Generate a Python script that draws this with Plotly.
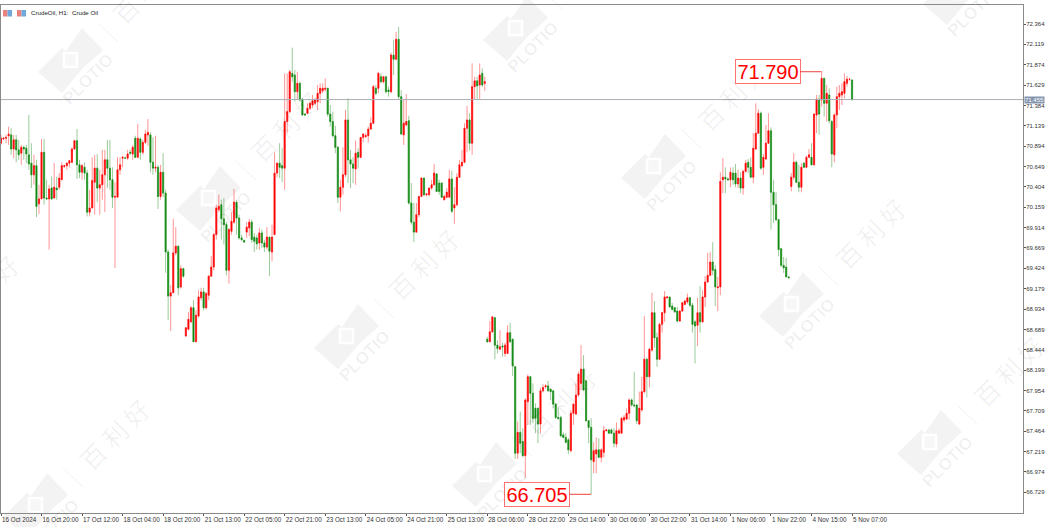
import plotly.graph_objects as go

# --- session before the stitch (16 Oct - 28 Oct) ---
left_open = [70.93,70.98,70.99,71.02,71.03,70.86,70.97,70.85,70.81,70.88,
70.87,70.79,70.69,70.55,70.66,70.20,70.26,70.82,70.27,70.26,
70.39,70.27,70.39,70.40,70.49,70.65,70.66,70.69,70.70,70.86,
70.96,70.67,70.58,70.64,70.57,70.10,70.15,70.46,70.63,70.39,
70.43,70.55,70.73,70.63,70.49,70.28,70.28,70.61,70.75,70.75,
70.75,70.82,70.80,70.99,70.76,70.98,70.82,70.94,71.03,71.03,
70.70,70.63,70.64,70.29,70.58,70.33,69.62,69.09,69.13,69.61,
69.69,69.20,69.42,68.61,68.69,68.78,68.95,68.54,68.85,69.07,
69.14,68.95,69.10,69.33,69.44,69.83,70.13,70.19,70.02,69.95,
69.40,69.87,69.98,70.22,70.03,69.79,69.76,69.86,69.91,69.98,
69.80,69.79,69.73,69.85,69.73,69.68,69.80,69.62,69.83,70.57,
70.69,70.66,70.63,71.19,71.31,71.77,71.75,71.55,71.65,71.46,
71.28,71.29,71.35,71.39,71.41,71.43,71.53,71.56,71.58,71.59,
71.28,71.19,71.02,70.88,70.28,70.40,70.55,71.21,70.73,70.68,
70.62,70.82,70.76,71.00,71.01,71.02,71.10,71.17,71.59,71.59,
71.73,71.67,71.73,71.57,71.55,71.99,71.94,72.18,71.49,71.03,
71.15,71.20,70.21,69.98,69.86,70.07,70.29,70.51,70.31,70.31,
70.39,70.43,70.56,70.45,70.45,70.25,70.28,70.28,70.50,70.15,
70.19,70.52,70.66,70.70,71.11,71.21,70.93,71.61,71.68,71.63,
71.77,71.65]
left_high = [71.03,71.00,71.03,71.13,71.11,71.03,71.03,70.97,70.91,70.90,
70.91,71.27,70.93,70.79,70.73,70.43,70.98,70.98,70.49,70.43,
70.53,70.69,70.53,70.57,70.70,70.67,70.70,70.73,70.88,70.97,
71.10,70.73,70.68,70.70,70.61,70.37,70.76,70.79,70.80,70.61,
70.85,70.85,70.97,70.97,70.64,70.46,70.76,70.76,70.78,70.77,
70.85,70.85,70.91,71.02,71.16,71.00,70.97,71.09,71.22,71.06,
71.00,71.02,70.67,70.67,70.81,70.37,69.65,69.22,70.02,69.92,
69.70,69.46,69.43,68.71,68.90,68.97,69.04,68.92,69.16,69.19,
69.19,69.14,69.34,69.57,69.85,70.19,70.31,70.25,70.27,69.98,
69.91,70.10,70.38,70.25,70.07,69.83,69.77,69.98,70.02,70.01,
69.85,69.83,69.91,69.89,69.77,69.92,69.80,69.95,70.82,70.70,
70.93,70.87,71.77,71.77,71.81,72.08,71.81,71.79,71.67,71.47,
71.29,71.41,71.43,71.51,71.47,71.63,71.65,71.65,71.71,71.60,
71.39,71.31,71.14,70.90,70.49,70.88,71.33,71.47,70.85,70.76,
70.96,70.87,71.00,71.05,71.05,71.13,71.24,71.63,71.63,71.79,
71.77,71.73,71.74,71.61,72.02,72.17,72.27,72.33,71.57,71.45,
71.52,71.26,70.45,70.21,70.21,70.29,70.52,70.52,70.33,70.40,
70.49,70.68,70.57,70.49,70.46,70.31,70.39,70.61,70.60,70.40,
70.57,70.73,70.85,71.17,71.38,71.29,71.89,71.73,71.73,71.89,
71.83,71.73]
left_low = [70.91,70.97,70.93,70.91,70.79,70.75,70.70,70.73,70.67,70.73,
70.69,70.61,70.39,70.43,70.04,70.08,70.26,70.19,70.25,69.65,
70.25,70.27,70.25,70.37,70.49,70.63,70.61,70.64,70.69,70.85,
70.50,70.51,70.49,70.49,70.05,70.05,70.15,70.07,70.22,70.07,
70.25,70.10,70.39,70.37,70.15,69.43,70.28,70.55,70.64,70.74,
70.73,70.79,70.73,70.75,70.75,70.73,70.79,70.92,70.90,70.58,
70.55,70.58,70.14,70.25,70.28,69.37,68.80,68.67,69.13,69.58,
69.10,69.18,69.31,68.60,68.68,68.77,68.54,68.54,68.83,69.04,
68.92,68.93,69.04,69.32,69.40,69.77,70.10,69.77,69.71,69.34,
69.24,69.83,69.96,69.83,69.77,69.75,69.73,69.79,69.81,69.73,
69.62,69.65,69.65,69.67,69.62,69.65,69.33,69.51,69.83,70.52,
70.51,70.46,70.37,71.05,71.29,71.67,71.43,71.45,71.43,71.26,
71.26,71.28,71.33,71.35,71.39,71.33,71.41,71.53,71.55,71.25,
71.13,71.00,70.81,70.21,70.11,70.31,70.52,70.45,70.39,70.45,
70.43,70.63,70.75,70.94,70.99,70.94,71.09,71.16,71.51,71.53,
71.65,71.65,71.53,71.49,71.53,71.75,71.93,71.45,71.03,70.91,
71.13,70.19,69.95,69.74,69.85,70.04,70.28,70.29,70.29,70.29,
70.37,70.42,70.34,70.31,70.27,70.24,70.27,70.28,70.09,69.96,
70.17,70.51,70.64,70.69,70.82,70.84,70.79,71.46,71.46,71.46,
71.61,71.56]
left_close = [70.99,70.99,71.00,71.04,70.86,70.97,70.85,70.79,70.88,70.86,
70.80,70.68,70.55,70.66,70.17,70.26,70.82,70.27,70.26,70.38,
70.26,70.40,70.37,70.51,70.66,70.66,70.69,70.72,70.86,70.96,
70.67,70.58,70.66,70.57,70.10,70.15,70.48,70.63,70.39,70.43,
70.55,70.73,70.63,70.49,70.28,70.29,70.61,70.67,70.76,70.75,
70.80,70.81,70.88,70.76,70.99,70.82,70.94,71.04,71.06,70.70,
70.63,70.64,70.29,70.58,70.33,69.62,69.09,69.13,69.61,69.69,
69.19,69.42,69.33,68.71,68.81,68.95,68.54,68.86,69.08,69.14,
68.95,69.12,69.33,69.44,69.83,70.15,70.17,70.02,69.95,69.40,
69.89,69.99,70.22,70.03,69.79,69.77,69.74,69.92,69.98,69.77,
69.75,69.72,69.85,69.73,69.68,69.80,69.63,69.80,70.57,70.69,
70.64,70.63,71.19,71.31,71.79,71.73,71.55,71.65,71.45,71.27,
71.27,71.35,71.41,71.44,71.45,71.53,71.59,71.59,71.59,71.28,
71.19,71.02,70.88,70.28,70.40,70.55,71.21,70.73,70.68,70.63,
70.81,70.76,71.00,71.04,71.02,71.10,71.17,71.61,71.53,71.77,
71.67,71.73,71.55,71.55,71.99,71.94,72.18,71.49,71.04,71.17,
71.19,70.21,69.98,69.86,70.07,70.29,70.51,70.31,70.32,70.39,
70.43,70.57,70.35,70.35,70.28,70.29,70.34,70.50,70.11,70.19,
70.52,70.67,70.70,71.11,71.21,70.93,71.61,71.68,71.62,71.75,
71.63,71.67]

# --- session after the stitch (28 Oct - 5 Nov) ---
right_open = [68.57,68.54,68.66,68.83,68.50,68.45,68.49,68.40,68.40,68.65,
68.57,68.24,67.20,67.45,67.34,67.17,67.82,68.12,67.92,67.74,
67.74,67.55,67.95,68.00,68.01,67.97,67.95,67.79,67.63,67.63,
67.42,67.39,67.36,67.23,67.68,67.67,67.90,68.04,68.21,68.07,
67.59,67.51,67.10,67.19,67.24,67.15,67.21,67.47,67.48,67.48,
67.44,67.31,67.44,67.44,67.60,67.61,67.68,67.84,67.78,67.78,
67.55,67.72,67.94,68.33,68.12,68.44,68.89,68.59,68.33,68.75,
68.89,69.07,69.08,68.97,68.95,68.91,68.79,68.91,68.99,69.02,
69.07,68.98,68.78,68.74,68.89,68.78,69.08,69.26,69.34,69.50,
69.41,69.19,69.20,70.49,70.52,70.50,70.49,70.57,70.57,70.44,
70.51,70.39,70.59,70.70,70.64,70.52,70.86,71.05,71.29,70.64,
70.74,70.93,71.08,70.34,70.19,70.01,69.66,69.46,69.44,69.32,
70.41,70.52,70.70,70.46,70.40,70.69,70.64,70.76,70.76,70.67,
71.27,71.46,71.45,71.71,71.41,71.51,71.19,70.79,71.27,71.49,
71.51,71.53,71.65,71.70,71.69]
right_high = [68.60,68.79,68.85,68.84,68.56,68.68,68.53,68.53,68.74,68.77,
68.58,68.25,67.58,67.70,67.50,67.86,68.15,68.13,68.04,67.80,
67.75,67.99,68.03,68.03,68.07,67.98,67.96,67.80,67.75,67.65,
67.45,67.44,67.38,67.72,67.80,68.04,68.18,68.50,68.38,68.08,
67.60,67.62,67.33,67.39,67.38,67.26,67.53,67.49,67.49,67.50,
67.50,67.57,67.50,67.63,67.66,67.74,67.86,67.86,68.18,67.79,
67.94,68.12,68.85,68.35,68.47,69.13,69.03,68.65,68.77,68.90,
69.15,69.09,69.08,69.01,68.96,68.96,68.92,69.02,69.05,69.12,
69.08,69.01,68.80,69.07,69.21,69.16,69.33,69.61,69.62,69.74,
69.46,69.32,70.58,70.75,70.64,70.52,70.64,70.64,70.68,70.61,
70.58,70.61,70.73,70.74,70.76,71.05,71.41,71.34,71.31,70.80,
71.15,71.29,71.12,70.49,70.34,70.02,69.67,69.56,69.55,69.33,
70.57,70.81,70.72,70.67,70.69,70.70,70.78,70.86,70.93,71.29,
71.51,71.51,71.79,71.72,71.63,71.59,71.21,71.29,71.61,71.63,
71.65,71.77,71.74,71.71,71.70]
right_low = [68.53,68.54,68.65,68.33,68.40,68.44,68.36,68.36,68.40,68.53,
68.13,67.13,67.13,67.20,67.15,66.90,67.54,67.54,67.56,67.44,
67.32,67.44,67.93,67.98,67.94,67.84,67.74,67.61,67.60,67.39,
67.38,67.32,67.19,67.21,67.54,67.66,67.88,67.96,67.95,67.58,
67.32,66.705,66.96,66.96,67.14,67.09,67.15,67.46,67.43,67.43,
67.27,67.27,67.43,67.44,67.57,67.60,67.60,67.76,67.76,67.55,
67.54,67.70,67.92,67.87,67.99,68.42,68.47,68.24,68.32,68.65,
68.78,69.06,68.95,68.92,68.89,68.77,68.78,68.90,68.98,69.00,
68.96,68.65,68.28,68.49,68.65,68.77,68.96,69.25,69.33,69.34,
68.97,68.91,69.10,70.33,70.33,70.48,70.40,70.43,70.40,70.39,
70.33,70.31,70.58,70.57,70.51,70.45,70.85,71.04,70.61,70.55,
70.73,70.92,69.89,69.97,69.99,69.57,69.44,69.37,69.32,69.31,
70.35,70.49,70.45,70.34,70.34,70.63,70.63,70.75,70.66,70.66,
71.05,71.03,71.37,71.25,71.19,71.17,70.64,70.70,71.11,71.33,
71.39,71.47,71.61,71.68,71.44]
right_close = [68.54,68.66,68.84,68.50,68.46,68.48,68.48,68.50,68.65,68.54,
68.25,67.20,67.45,67.32,67.17,67.84,68.12,67.92,67.62,67.62,
67.55,67.95,67.99,68.01,67.95,67.94,67.79,67.63,67.62,67.41,
67.39,67.33,67.24,67.68,67.79,67.90,68.15,68.21,67.96,67.59,
67.51,67.12,67.23,67.24,67.15,67.24,67.47,67.48,67.44,67.44,
67.32,67.47,67.47,67.62,67.63,67.68,67.84,67.78,67.77,67.59,
67.74,67.94,68.33,68.12,68.45,68.89,68.59,68.33,68.75,68.89,
69.08,69.08,68.96,68.93,68.90,68.79,68.91,69.01,69.03,69.07,
68.98,68.75,68.73,68.89,68.78,69.08,69.26,69.34,69.50,69.40,
69.20,69.20,70.47,70.52,70.50,70.49,70.58,70.49,70.44,70.51,
70.39,70.59,70.69,70.64,70.52,70.87,71.05,71.29,70.63,70.76,
70.93,71.08,70.34,70.19,70.01,69.65,69.46,69.43,69.32,69.31,
70.52,70.70,70.46,70.40,70.64,70.64,70.76,70.79,70.67,71.28,
71.46,71.28,71.71,71.41,71.53,71.20,70.80,71.27,71.49,71.53,
71.55,71.67,71.70,71.70,71.455]

time_labels = ["16 Oct 2024","16 Oct 20:00","17 Oct 12:00","18 Oct 04:00","18 Oct 20:00",
               "21 Oct 13:00","22 Oct 05:00","22 Oct 21:00","23 Oct 13:00","24 Oct 05:00",
               "24 Oct 21:00","25 Oct 13:00","28 Oct 06:00","28 Oct 22:00","29 Oct 14:00",
               "30 Oct 06:00","30 Oct 22:00","31 Oct 14:00","1 Nov 06:00","1 Nov 22:00",
               "4 Nov 15:00","5 Nov 07:00"]
price_labels = ["72.364","72.119","71.874","71.629","71.384","71.139","70.894","70.649",
                "70.404","70.159","69.914","69.669","69.424","69.179","68.934","68.689",
                "68.444","68.199","67.954","67.709","67.464","67.219","66.974","66.729"]
last_price = 71.455
high_label = 71.790
low_label = 66.705

W, H = 1045, 527
L, R, T, B = 1, 22, 5, 14
PW, PH = W - L - R, H - T - B
def px(x): return (x - L) / PW
def py(y): return 1 - (y - T) / PH

opens = left_open + right_open
highs = left_high + right_high
lows = left_low + right_low
closes = left_close + right_close
bars = list(range(len(opens)))

fig = go.Figure()
fig.add_trace(go.Candlestick(
    x=bars, open=opens, high=highs, low=lows, close=closes, whiskerwidth=0,
    increasing=dict(line=dict(color="rgba(255,60,60,0.55)", width=1), fillcolor="rgba(0,0,0,0)"),
    decreasing=dict(line=dict(color="rgba(30,140,30,0.45)", width=1), fillcolor="rgba(0,0,0,0)"),
    hoverinfo="skip", showlegend=False))
fig.add_trace(go.Candlestick(
    x=bars, open=opens, close=closes,
    high=[max(o, c) for o, c in zip(opens, closes)],
    low=[min(o, c) for o, c in zip(opens, closes)],
    whiskerwidth=0,
    increasing=dict(line=dict(color="#ff0000", width=0.4), fillcolor="#ff0000"),
    decreasing=dict(line=dict(color="#128a12", width=0.4), fillcolor="#128a12"),
    hoverinfo="skip", showlegend=False))

shapes = []
annots = []
WM_TEXT = "rgba(0,0,0,0.06)"
logo_centres = [(75,60),(213,198),(351,336),(489,474),(520,28),(658,166),(796,304),(934,442),
                (960,-8),(40,505)]
brand_centres = [(147,-12),(285,126),(423,264),(561,402),(732,95),(870,233),(1008,371),(114,434),(-17,290)]
for cx, cy in logo_centres:
    pts = [(7,-32),(28,-10),(8,8),(-13,33),(-37,12),(-13,-12),(-9,-9)]
    path = "M " + " L ".join(f"{px(cx+a):.5f},{py(cy+b):.5f}" for a, b in pts) + " Z"
    shapes.append(dict(type="path", xref="paper", yref="paper", path=path,
                       fillcolor="#f3f3f3", line=dict(width=0), layer="below"))
    shapes.append(dict(type="rect", xref="paper", yref="paper",
                       x0=px(cx-11), x1=px(cx+2), y0=py(cy+7), y1=py(cy-7),
                       fillcolor="#f7f7f7", line=dict(color="#ffffff", width=2.5), layer="below"))
    shapes.append(dict(type="line", xref="paper", yref="paper",
                       x0=px(cx+23), y0=py(cy-37), x1=px(cx+43), y1=py(cy-18),
                       line=dict(color="#f1f1f1", width=1), layer="below"))
    annots.append(dict(text="<b>PLOTIO</b>", xref="paper", yref="paper", x=px(cx+13), y=py(cy+20),
                       xanchor="center", yanchor="middle", textangle=-45, showarrow=False,
                       font=dict(family="Liberation Sans", size=17, color=WM_TEXT)))
for bx, by in brand_centres:
    annots.append(dict(text="百 利 好", xref="paper", yref="paper", x=px(bx), y=py(by),
                       xanchor="center", yanchor="middle", textangle=-45, showarrow=False,
                       font=dict(family="Noto Sans CJK SC", size=25, color=WM_TEXT)))

# window header icons
for x0, col in [(3, "#e9827f"), (7.5, "#6fa8dc"), (17, "#e9827f"), (21.5, "#6fa8dc")]:
    shapes.append(dict(type="rect", xref="paper", yref="paper",
                       x0=px(x0), x1=px(x0+4.5), y0=py(16.5), y1=py(10),
                       fillcolor=col, line=dict(width=0)))
annots.append(dict(text="CrudeOil, H1:  Crude Oil", xref="paper", yref="paper",
                   x=px(29), y=py(13), xanchor="left", yanchor="middle", showarrow=False,
                   font=dict(family="Liberation Sans", size=6.2, color="#222222")))

# current price line + tag
shapes.append(dict(type="line", xref="paper", yref="y", x0=0, x1=1, y0=last_price, y1=last_price,
                   line=dict(color="#a9adb5", width=1)))
annots.append(dict(text=f"{last_price:.3f}", xref="paper", yref="y", x=px(1024), y=last_price,
                   xanchor="left", yanchor="middle", showarrow=False, bgcolor="#8496ae",
                   font=dict(family="Liberation Sans", size=6, color="#ffffff"), borderpad=0))

# high / low call-outs
for val, bar, off in [(high_label, 192+132, -54), (low_label, 192+41, -54)]:
    annots.append(dict(text=f"{val:.3f}", x=bar, y=val, xref="x", yref="y", ax=off, ay=0,
                       showarrow=True, arrowhead=0, arrowwidth=1, arrowcolor="#f04040",
                       bgcolor="#ffffff", bordercolor="#ff7070", borderwidth=1, borderpad=0,
                       width=64, height=23,
                       font=dict(family="Liberation Sans", size=20, color="#ff0000")))

fig.update_layout(
    width=W, height=H, autosize=False, paper_bgcolor="#ffffff", plot_bgcolor="rgba(0,0,0,0)",
    margin=dict(l=L, r=R, t=T, b=B, pad=0), showlegend=False, boxgap=0.34,
    shapes=shapes, annotations=annots,
    font=dict(family="Liberation Sans", size=7, color="#222222"),
    xaxis=dict(range=[0, 403.5], tickmode="array",
               tickvals=[16 * k for k in range(len(time_labels))], ticktext=time_labels,
               ticks="outside", ticklen=2, tickcolor="#555555", tickwidth=1, tickangle=0,
               ticklabelposition="outside right", showgrid=False, zeroline=False, automargin=False,
               showline=True, linecolor="#8a8a8a", linewidth=1, mirror=True,
               rangeslider=dict(visible=False),
               tickfont=dict(family="Liberation Sans", size=6.3, color="#333333")),
    yaxis=dict(range=[66.480, 72.593], side="right", tickmode="array", automargin=False,
               tickvals=[float(p) for p in price_labels], ticktext=price_labels,
               ticks="outside", ticklen=2, tickcolor="#555555", tickwidth=1, ticklabelstandoff=-1,
               showgrid=False, zeroline=False, showline=True, linecolor="#8a8a8a", linewidth=1,
               mirror=True, tickfont=dict(family="Liberation Sans", size=6, color="#333333")),
)
fig.write_html("out.html", config={"displayModeBar": False},
               post_script="document.body.style.margin='0';")
